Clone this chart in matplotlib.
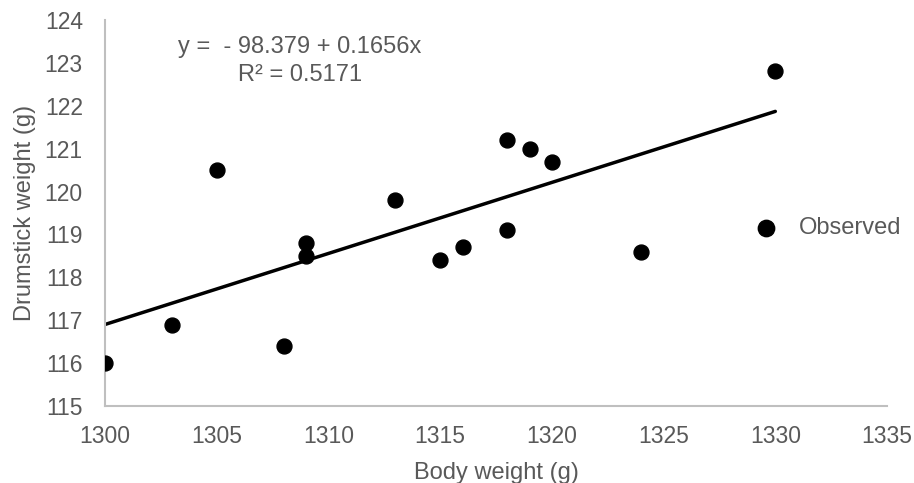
import matplotlib
matplotlib.use("Agg")
import matplotlib.pyplot as plt
import numpy as np

plt.rcParams['font.family'] = ['Liberation Sans', 'DejaVu Sans']

body_weight = [1300, 1303, 1305, 1308, 1309, 1309, 1313, 1315, 1316, 1318, 1318, 1319, 1320, 1324, 1330]
drumstick = [116.0, 116.9, 120.5, 116.4, 118.8, 118.5, 119.8, 118.4, 118.7, 121.2, 119.1, 121.0, 120.7, 118.6, 122.8]
intercept = -98.379
slope = 0.1656
r2 = 0.5171
x_ticks = [1300, 1305, 1310, 1315, 1320, 1325, 1330, 1335]
y_ticks = [115, 116, 117, 118, 119, 120, 121, 122, 123, 124]

gray = '#595959'
fig = plt.figure(figsize=(9.14, 4.83), dpi=100)
ax = fig.add_axes([0.1149, 0.1594, 0.8556, 0.7992])

ax.scatter(body_weight, drumstick, s=115, color='black', zorder=3, label='Observed')
xl = np.array([min(body_weight), max(body_weight)])
ax.plot(xl, intercept + slope * xl, color='black', lw=2.5, zorder=2, solid_capstyle='round')

ax.set_xlim(1300, 1335)
ax.set_ylim(115, 124)
ax.set_xticks(x_ticks)
ax.set_yticks(y_ticks)
for s in ['top', 'right']:
    ax.spines[s].set_visible(False)
for s in ['left', 'bottom']:
    ax.spines[s].set_color('#bfbfbf')
    ax.spines[s].set_linewidth(1.5)
ax.tick_params(axis='x', length=0, labelsize=16.5, colors=gray, pad=14)
ax.tick_params(axis='y', length=0, labelsize=16.5, colors=gray, pad=16)
ax.set_xlabel('Body weight (g)', fontsize=17, color=gray, labelpad=10)
ax.set_ylabel('Drumstick weight (g)', fontsize=17, color=gray, labelpad=6)

ax.text(0.0934, 0.930, 'y =  - 98.379 + 0.1656x', transform=ax.transAxes,
        fontsize=17, color=gray, ha='left', va='center')
ax.text(0.170, 0.8575, 'R² = 0.5171', transform=ax.transAxes,
        fontsize=17, color=gray, ha='left', va='center')

leg = ax.legend(loc='center left', bbox_to_anchor=(0.8146, 0.461), frameon=False,
                fontsize=17, handletextpad=0.4, borderpad=0, borderaxespad=0,
                handlelength=2.0, markerscale=1.1)
for t in leg.get_texts():
    t.set_color(gray)

fig.savefig('out.png', dpi=100)
